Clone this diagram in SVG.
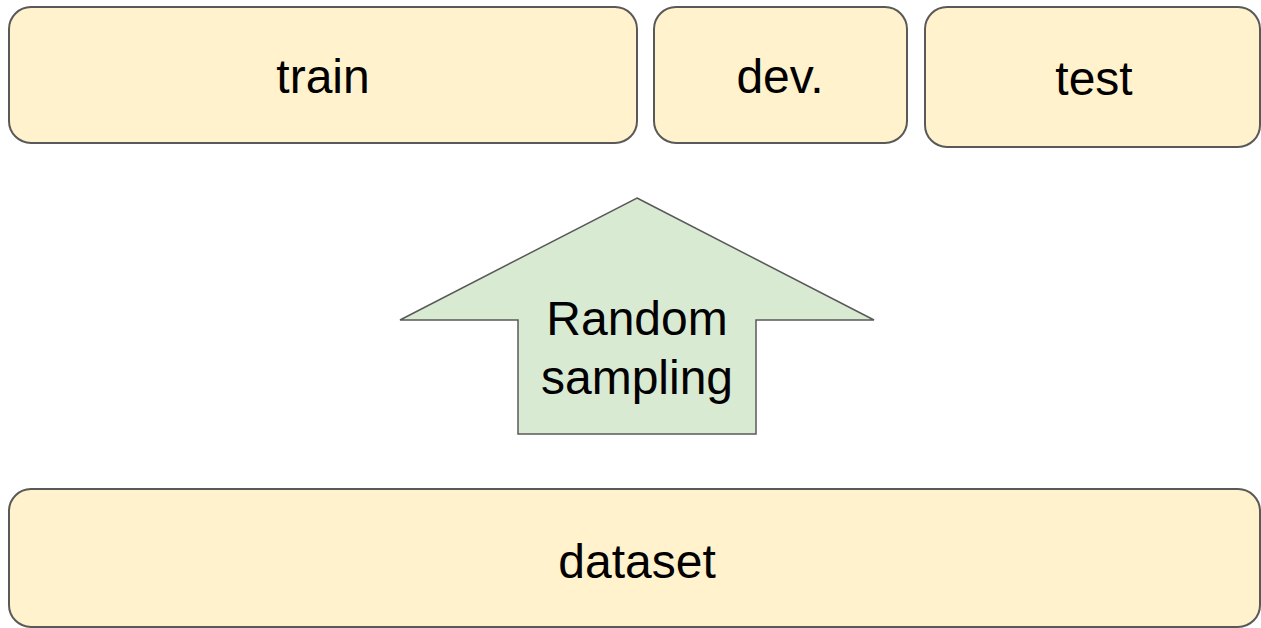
<svg xmlns="http://www.w3.org/2000/svg" width="1261" height="628" viewBox="0 0 1261 628">
  <style>
    .box { fill: #fff2cc; stroke: #595959; stroke-width: 2; }
    .arrow { fill: #d9ead3; stroke: #595959; stroke-width: 1.5; stroke-linejoin: miter; }
    .label { font-family: "Liberation Sans", Arial, sans-serif; font-size: 48px; fill: #000000; text-anchor: middle; }
  </style>
  <rect width="1261" height="628" fill="#ffffff"/>
  <g id="train">
    <rect class="box" x="9" y="7" width="628" height="136" rx="22" ry="22"/>
    <text class="label" x="323" y="93">train</text>
  </g>
  <g id="dev">
    <rect class="box" x="654" y="7" width="253" height="136" rx="22" ry="22"/>
    <text class="label" x="780" y="93">dev.</text>
  </g>
  <g id="test">
    <rect class="box" x="925" y="7" width="335" height="140" rx="22" ry="22"/>
    <text class="label" x="1094" y="95">test</text>
  </g>
  <g id="random-sampling">
    <polygon class="arrow" points="637,198 874,320 756,320 756,434 518,434 518,320 400,320"/>
    <text class="label" x="637" y="335">Random</text>
    <text class="label" x="637" y="394">sampling</text>
  </g>
  <g id="dataset">
    <rect class="box" x="9" y="489" width="1251" height="138" rx="22" ry="22"/>
    <text class="label" x="637" y="578">dataset</text>
  </g>
  <g id="connectors"></g>
</svg>
